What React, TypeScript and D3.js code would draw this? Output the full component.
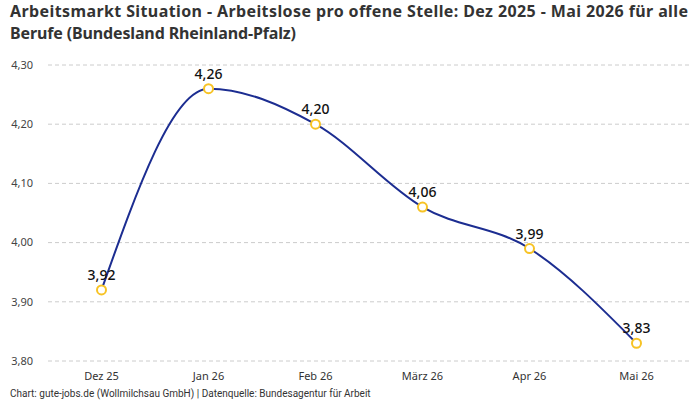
import React from "react";
import * as d3 from "d3";

const categories = ["Dez 25", "Jan 26", "Feb 26", "März 26", "Apr 26", "Mai 26"];
const values = [3.92, 4.26, 4.2, 4.06, 3.99, 3.83];
const yTicks = [3.8, 3.9, 4.0, 4.1, 4.2, 4.3];

const W = 700, H = 400;
const left = 48, right = 690, top = 65, bottom = 361;
const font = "'Noto Sans', Roboto, sans-serif";

export default function App() {
  const x = d3.scalePoint<string>().domain(categories).range([left, right]).padding(0.5);
  const y = d3.scaleLinear().domain([3.8, 4.3]).range([bottom, top]);
  const fmt = (v: number) => v.toFixed(2).replace(".", ",");
  const line = d3
    .line<number>()
    .x((_, i) => x(categories[i])!)
    .y((d) => y(d))
    .curve(d3.curveMonotoneX);
  return (
    <svg width={W} height={H} style={{ position: "absolute", left: 0, top: 0, background: "#fff" }} fontFamily={font}>
      <text x={10} y={17} fontSize={16} fontWeight={700} fill="#333" textLength={678} lengthAdjust="spacing">
        Arbeitsmarkt Situation - Arbeitslose pro offene Stelle: Dez 2025 - Mai 2026 für alle
      </text>
      <text x={10} y={39} fontSize={16} fontWeight={700} fill="#333" textLength={286} lengthAdjust="spacing">
        Berufe (Bundesland Rheinland-Pfalz)
      </text>
      {yTicks.map((t) => (
        <g key={t}>
          <line x1={left} x2={right} y1={y(t)} y2={y(t)} stroke="#ccc" strokeDasharray="4,3" strokeWidth={1} />
          <text x={33} y={y(t)} dy="0.35em" textAnchor="end" fontSize={11} fill="#444">
            {fmt(t)}
          </text>
        </g>
      ))}
      {categories.map((c) => (
        <text key={c} x={x(c)} y={380} textAnchor="middle" fontSize={11} fill="#333">
          {c}
        </text>
      ))}
      <path d={line(values) || ""} fill="none" stroke="#1c2d91" strokeWidth={2} />
      {values.map((v, i) => (
        <g key={i}>
          <circle cx={x(categories[i])} cy={y(v)} r={4.5} fill="#fff" stroke="#f7c325" strokeWidth={2} />
          <text x={x(categories[i])} y={y(v) - 10} textAnchor="middle" fontSize={14} fontWeight={500} fill="#111">
            {fmt(v)}
          </text>
        </g>
      ))}
      <text x={10} y={397} fontSize={10} fill="#333" fontFamily="Roboto, sans-serif">
        Chart: gute-jobs.de (Wollmilchsau GmbH) | Datenquelle: Bundesagentur für Arbeit
      </text>
    </svg>
  );
}
